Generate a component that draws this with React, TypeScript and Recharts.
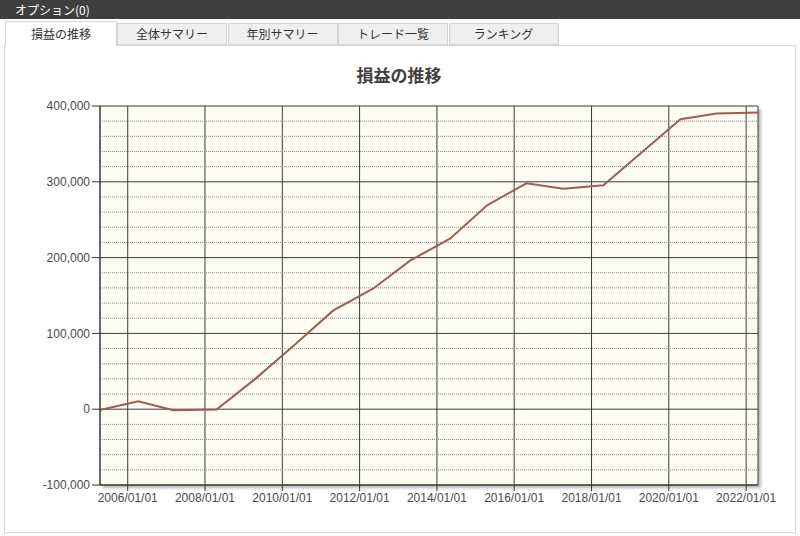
import { CartesianGrid, Line, LineChart, ReferenceLine, XAxis, YAxis } from "recharts";

// 損益の推移 — cumulative profit, roughly one point per year
const dates = [
  "2005-04-14",
  "2006-04-10",
  "2007-03-08",
  "2008-04-20",
  "2009-04-20",
  "2010-04-20",
  "2011-04-25",
  "2012-05-07",
  "2013-04-22",
  "2014-05-05",
  "2015-04-20",
  "2016-04-25",
  "2017-04-10",
  "2018-04-23",
  "2019-04-22",
  "2020-04-20",
  "2021-03-29",
  "2022-04-23",
];
const profit = [
  -1000, 10500, -1500, -500, 40000, 84000, 130000, 159000, 196000, 225000, 269000, 298000, 291000, 295500,
  339000, 382600, 390000, 391500,
];

const tickYears = [2006, 2008, 2010, 2012, 2014, 2016, 2018, 2020, 2022];
const yMajorTicks = [-100000, 0, 100000, 200000, 300000, 400000];
const yMinorLines = [
  -80000, -60000, -40000, -20000, 20000, 40000, 60000, 80000, 120000, 140000, 160000, 180000, 220000, 240000,
  260000, 280000, 320000, 340000, 360000, 380000,
];
const tabs = ["損益の推移", "全体サマリー", "年別サマリー", "トレード一覧", "ランキング"];

const toTime = (d: string) => {
  const [y, m, day] = d.split("-").map(Number);
  return Date.UTC(y, m - 1, day);
};

const data = dates.map((d, i) => ({ t: toTime(d), profit: profit[i] }));
const xTicks = tickYears.map((y) => Date.UTC(y, 0, 1));

const jp = '"Noto Sans CJK JP", "Liberation Sans", sans-serif';
const tickStyle = { fill: "#4a4a4a", fontSize: 12, fontFamily: '"Liberation Sans", Arial, sans-serif' };

function TabBar() {
  return (
    <div style={{ position: "absolute", left: 0, top: 20, width: 800, height: 26 }}>
      {tabs.map((label, i) => {
        const selected = i === 0;
        const left = selected ? 5 : 117 + (i - 1) * 110.5;
        const width = selected ? 112 : 110;
        return (
          <div
            key={label}
            style={{
              position: "absolute",
              left,
              top: selected ? 1 : 3,
              width,
              height: selected ? 25 : 22,
              boxSizing: "border-box",
              background: selected ? "#ffffff" : "#efefef",
              border: "1px solid #d4d4d4",
              borderBottom: selected ? "none" : "1px solid #d4d4d4",
              fontFamily: jp,
              fontSize: 12,
              color: "#333",
              textAlign: "center",
              lineHeight: selected ? "23px" : "20px",
              zIndex: selected ? 2 : 1,
            }}
          >
            {label}
          </div>
        );
      })}
    </div>
  );
}

export default function App() {
  return (
    <div
      style={{
        position: "fixed",
        left: 0,
        top: 0,
        width: 800,
        height: 536,
        background: "#ffffff",
        overflow: "hidden",
      }}
    >
      <div
        style={{
          position: "absolute",
          left: 0,
          top: 0,
          width: 800,
          height: 19,
          background: "#3f3f3f",
          color: "#ffffff",
          fontFamily: jp,
          fontSize: 12,
          lineHeight: "19px",
          paddingLeft: 15,
          boxSizing: "border-box",
        }}
      >
        オプション(0)
      </div>
      <div
        style={{
          position: "absolute",
          left: 4,
          top: 45,
          width: 792,
          height: 488,
          boxSizing: "border-box",
          border: "1px solid #d8d8d8",
          background: "#ffffff",
        }}
      />
      <TabBar />
      <div
        style={{
          position: "absolute",
          left: 0,
          top: 62,
          width: 798,
          textAlign: "center",
          fontFamily: jp,
          fontSize: 17,
          fontWeight: 700,
          color: "#404040",
        }}
      >
        損益の推移
      </div>
      {/* drop shadow behind the plot area */}
      <div
        style={{
          position: "absolute",
          left: 103,
          top: 109,
          width: 658,
          height: 379,
          background: "rgba(0,0,0,0.28)",
          filter: "blur(1.5px)",
        }}
      />
      <div style={{ position: "absolute", left: 0, top: 0 }}>
        <LineChart width={800} height={536} data={data} margin={{ top: 106, right: 42, left: 10, bottom: 21 }}>
          <CartesianGrid stroke="#3a3a3a" fill="#fdfdf1" fillOpacity={1} />
          {yMinorLines.map((v) => (
            <ReferenceLine key={v} y={v} stroke="#8a8a8a" strokeDasharray="1 1" ifOverflow="hidden" />
          ))}
          <XAxis
            dataKey="t"
            type="number"
            domain={[data[0].t, data[data.length - 1].t]}
            ticks={xTicks}
            tickFormatter={(v) => `${new Date(Number(v)).getUTCFullYear()}/01/01`}
            tick={tickStyle}
            tickSize={6}
            tickMargin={2}
            height={30}
            stroke="#333"
            interval={0}
          />
          <YAxis
            type="number"
            domain={[-100000, 400000]}
            ticks={yMajorTicks}
            tickFormatter={(v) => Number(v).toLocaleString("en-US")}
            tick={tickStyle}
            tickSize={8}
            tickMargin={2}
            width={90}
            stroke="#333"
            interval={0}
          />
          <Line
            type="linear"
            dataKey="profit"
            stroke="#a65a55"
            strokeWidth={2}
            dot={false}
            isAnimationActive={false}
          />
        </LineChart>
      </div>
    </div>
  );
}
